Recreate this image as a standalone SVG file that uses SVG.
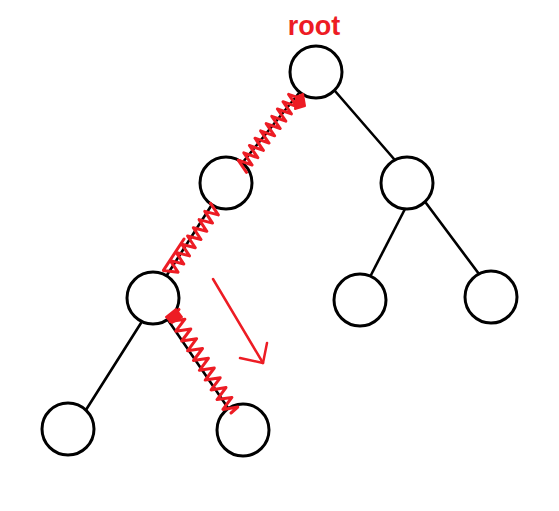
<svg xmlns="http://www.w3.org/2000/svg" width="559" height="511" viewBox="0 0 559 511">
<style>
.node{fill:#fff;stroke:#000;stroke-width:3}
.edge{stroke:#000;stroke-width:2.6;fill:none;stroke-linecap:round}
.scr{stroke:#ED1C24;stroke-width:3;fill:none;stroke-linejoin:round;stroke-linecap:round}
.thin{stroke:#ED1C24;stroke-width:2.5;fill:none;stroke-linejoin:round;stroke-linecap:round}
.blob{fill:#ED1C24;stroke:#ED1C24;stroke-width:2;stroke-linejoin:round}
.lbl{font-family:"Liberation Sans",Arial,sans-serif;font-weight:bold;font-size:27px;fill:#ED1C24}
</style>
<rect width="559" height="511" fill="#fff"/>
<g id="connectors">
<line class="edge" x1="299" y1="93" x2="243" y2="162"/>
<line class="edge" x1="335" y1="91" x2="394" y2="159"/>
<line class="edge" x1="211" y1="206" x2="167" y2="275"/>
<line class="edge" x1="406" y1="207" x2="371" y2="275"/>
<line class="edge" x1="426" y1="203" x2="479" y2="274"/>
<line class="edge" x1="141" y1="323" x2="84" y2="413"/>
<line class="edge" x1="168" y1="320" x2="228" y2="408"/>
</g>
<g id="root"><circle class="node" cx="316" cy="72" r="26"/><text class="lbl" x="314" y="35" text-anchor="middle">root</text></g>
<g id="n2l"><circle class="node" cx="226" cy="183" r="26"/></g>
<g id="n2r"><circle class="node" cx="407" cy="183" r="26"/></g>
<g id="n3a"><circle class="node" cx="153" cy="298" r="26"/></g>
<g id="n3b"><circle class="node" cx="360" cy="300" r="26"/></g>
<g id="n3c"><circle class="node" cx="491" cy="297" r="26"/></g>
<g id="n4a"><circle class="node" cx="68" cy="429" r="26"/></g>
<g id="n4b"><circle class="node" cx="243" cy="430" r="26"/></g>
<g id="marks">
<polyline class="scr" points="302.6,99.2 288.6,94.4 297,106.6 283,101.7 291.4,113.9 277.4,109 285.8,121.2 271.8,116.3 280.2,128.5 266.2,123.6 274.6,135.8 260.6,130.9 269,143.1 255,138.2 263.4,150.4 249.4,145.5 257.8,157.7 243.8,152.8 252.1,165 238.2,160.2 246.5,172.3"/>
<polygon class="blob" points="296,97 303,94 305,106 295,109"/>
<polyline class="scr" points="210.6,203.3 218.3,214.9 204.8,211.4 212.5,223.1 199.1,219.6 206.8,231.3 193.3,227.8 201,239.5 187.6,236 195.3,247.7 181.8,244.2 189.5,255.9 176.1,252.4 183.8,264 170.3,260.6 178,272.2 163.4,270.4 184,239"/>
<polyline class="scr" points="179,309.4 170,321.5 184.9,319.2 175.8,331.2 190.8,329 181.7,341 196.6,338.7 187.6,350.8 202.5,348.5 193.5,360.5 208.4,358.3 199.4,370.3 214.3,368 205.2,380.1 220.2,377.8 211.1,389.9 226,387.6 217,399.6 231.9,397.4 222.9,409.4 237.8,407.1 231,413"/>
<polygon class="blob" points="166,317 176,309 182,317 172,323"/>
<polyline class="thin" points="213,279 263,363"/>
<polyline class="thin" points="267,343 263,363 240,358"/>
</g>
</svg>
